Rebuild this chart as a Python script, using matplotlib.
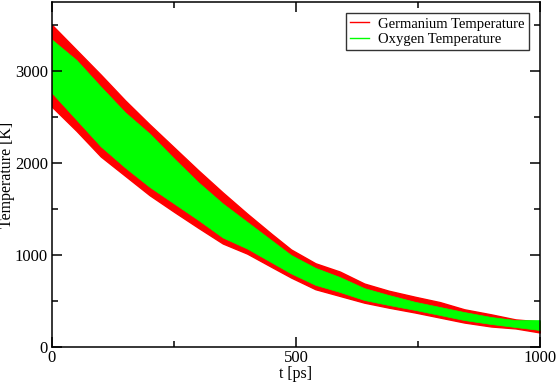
import matplotlib
matplotlib.use("Agg")
import matplotlib.pyplot as plt
from matplotlib.ticker import MultipleLocator

plt.rcParams['font.family'] = ['Liberation Serif', 'DejaVu Serif']

# envelope of the noisy traces
t_ps = [0, 50, 100, 150, 200, 250, 300, 350, 400, 450, 490, 540, 590, 640, 690, 745, 795, 845, 900, 950, 1000]
ge_upper = [3500, 3230, 2960, 2680, 2420, 2170, 1920, 1680, 1450, 1230, 1060, 910, 820, 690, 612, 545, 488, 410, 355, 300, 278]
ge_lower = [2610, 2350, 2070, 1860, 1650, 1470, 1295, 1125, 1015, 870, 755, 628, 555, 482, 428, 374, 320, 266, 223, 202, 158]
o_upper = [3340, 3120, 2830, 2550, 2320, 2050, 1790, 1560, 1360, 1160, 1000, 860, 760, 640, 565, 490, 435, 380, 326, 293, 293]
o_lower = [2760, 2470, 2180, 1950, 1740, 1560, 1380, 1190, 1070, 920, 800, 675, 598, 511, 457, 402, 348, 293, 250, 217, 185]

series_labels = ["Germanium Temperature", "Oxygen Temperature"]
red = "#ff0000"
green = "#00ff00"

fig = plt.figure(figsize=(5.56, 3.82), dpi=100)
ax = fig.add_axes([0.0935, 0.0916, 0.8775, 0.9034])

ax.fill_between(t_ps, ge_lower, ge_upper, color=red, linewidth=1.0, edgecolor=red)
ax.fill_between(t_ps, o_lower, o_upper, color=green, linewidth=0.5, edgecolor=green)
ax.plot([], [], color=red, lw=1, label=series_labels[0])
ax.plot([], [], color=green, lw=1, label=series_labels[1])

ax.set_xlim(0, 1000)
ax.set_ylim(0, 3750)
ax.xaxis.set_major_locator(MultipleLocator(500))
ax.xaxis.set_minor_locator(MultipleLocator(250))
ax.yaxis.set_major_locator(MultipleLocator(1000))
ax.yaxis.set_minor_locator(MultipleLocator(500))
ax.tick_params(which='both', direction='in', top=True, right=True, labelsize=12, width=1.1)
ax.tick_params(which='major', length=7)
ax.tick_params(which='minor', length=4.5)
ax.tick_params(axis='x', pad=2)
ax.tick_params(axis='y', pad=3)
for s in ax.spines.values():
    s.set_linewidth(1.1)

ax.set_xlabel("t [ps]", fontsize=11.5, labelpad=0)
ax.set_ylabel("Temperature [K]", fontsize=11.5, labelpad=0)

leg = ax.legend(loc='upper right', bbox_to_anchor=(0.977, 0.968), fontsize=10.5, frameon=True, fancybox=False,
                handlelength=1.3, handletextpad=0.6, borderpad=0.3, labelspacing=0.15, borderaxespad=0)
leg.get_frame().set_edgecolor('black')
leg.get_frame().set_linewidth(1.0)

fig.savefig("out.png", dpi=100)
